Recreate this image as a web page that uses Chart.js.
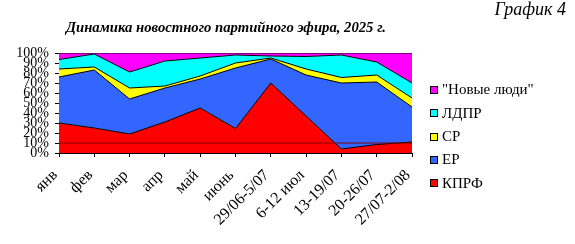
<!DOCTYPE html>
<html lang="ru">

<head>
    <meta charset="UTF-8">
    <title>График 4</title>
    <style>
        body { margin: 0; background: #fff; }
        #wrap { position: relative; width: 575px; height: 244px; font-family: 'Liberation Serif', 'Times New Roman', serif; color: #000; }
        #wrap canvas { position: absolute; left: 0; top: 0; }
        .title { position: absolute; left: 66px; top: 20px; font-size: 14.7px; line-height: 15px; font-weight: bold; font-style: italic; white-space: nowrap; }
        .num { position: absolute; right: 9px; top: 0px; font-size: 18px; line-height: 18px; font-style: italic; white-space: nowrap; }
        .leg { position: absolute; left: 442px; font-size: 15px; line-height: 15px; white-space: nowrap; }
        .box { position: absolute; left: 430px; width: 6px; height: 6px; border: 1px solid #000; }
    </style>
</head>

<body>
    <div id="wrap">
        <canvas id="myChart" width="575" height="244"></canvas>
        <div class="num">График 4</div>
        <div class="title">Динамика новостного партийного эфира, 2025 г.</div>
        <div id="legend"></div>
    </div>

    <script src="https://cdn.jsdelivr.net/npm/chart.js"></script>

    <script>
        // данные (доли, %)
        const labels = ['янв', 'фев', 'мар', 'апр', 'май', 'июнь', '29/06-5/07', '6-12 июл', '13-19/07', '20-26/07', '27/07-2/08'];
        const kprf = [30, 25, 19, 31, 45, 24.5, 70, 37, 4, 8.5, 11];
        const er = [46, 58, 35, 34, 29, 60.5, 24, 41, 66, 62.5, 35];
        const sr = [8, 3, 11, 2, 3, 5, 1, 6, 5.5, 7, 9];
        const ldpr = [9.5, 13, 16, 25, 18, 8, 2, 12.5, 22.5, 13, 15];
        const novye = [6.5, 1, 19, 8, 5, 2, 3, 3.5, 2, 9, 30];
        const line10 = [10, 10, 10, 10, 10, 10, 10, 10, 10, 10, 10];

        const yTicks = [0, 10, 20, 30, 40, 50, 60, 70, 80, 90, 100];

        const series = [
            { name: 'КПРФ', data: kprf, color: '#ff0000' },
            { name: 'ЕР', data: er, color: '#3366ff' },
            { name: 'СР', data: sr, color: '#ffff00' },
            { name: 'ЛДПР', data: ldpr, color: '#00ffff' },
            { name: '"Новые люди"', data: novye, color: '#ff00ff' }
        ];

        const serif = "'Liberation Serif', 'Times New Roman', serif";

        const datasets = series.map((s, i) => ({
            label: s.name,
            data: s.data,
            backgroundColor: s.color,
            borderColor: '#000',
            borderWidth: 1,
            pointRadius: 0,
            tension: 0,
            fill: i === 0 ? 'origin' : '-1'
        }));

        datasets.push({
            label: '10%',
            data: line10,
            yAxisID: 'y2',
            borderColor: '#800000',
            borderWidth: 1,
            pointRadius: 0,
            fill: false,
            order: -1
        });

        new Chart(document.getElementById('myChart'), {
            type: 'line',
            data: { labels: labels, datasets: datasets },
            options: {
                responsive: false,
                animation: false,
                layout: { padding: { left: 0, top: 53, right: 163, bottom: 0 } },
                plugins: {
                    legend: { display: false },
                    tooltip: { enabled: false }
                },
                scales: {
                    x: {
                        offset: false,
                        grid: { display: true, drawOnChartArea: false, tickLength: 4, color: '#000' },
                        border: { color: '#000' },
                        ticks: {
                            autoSkip: false, maxRotation: 45, minRotation: 45, padding: 9, labelOffset: -4,
                            color: '#000', font: { family: serif, size: 16 }
                        },
                        afterFit: s => { s.height = 91; }
                    },
                    y: {
                        stacked: true,
                        min: 0,
                        max: 100,
                        grid: { display: true, drawOnChartArea: false, tickLength: 4, color: '#000' },
                        border: { color: '#000' },
                        afterBuildTicks: s => { s.ticks = yTicks.map(v => ({ value: v })); },
                        ticks: {
                            autoSkip: false, padding: 6, color: '#000',
                            font: { family: serif, size: 14 },
                            callback: v => v + '%'
                        },
                        afterFit: s => { s.width = 59; }
                    },
                    y2: { display: false, min: 0, max: 100 }
                }
            }
        });

        // легенда (обратный порядок, как в исходнике)
        const legend = document.getElementById('legend');
        const base = [95, 118.3, 141.7, 165, 188.3];
        series.slice().reverse().forEach((s, i) => {
            const box = document.createElement('div');
            box.className = 'box';
            box.style.top = (base[i] - 9) + 'px';
            box.style.background = s.color;
            legend.appendChild(box);
            const t = document.createElement('div');
            t.className = 'leg';
            t.style.top = (base[i] - 12.6) + 'px';
            t.textContent = s.name;
            legend.appendChild(t);
        });
    </script>
</body>

</html>
